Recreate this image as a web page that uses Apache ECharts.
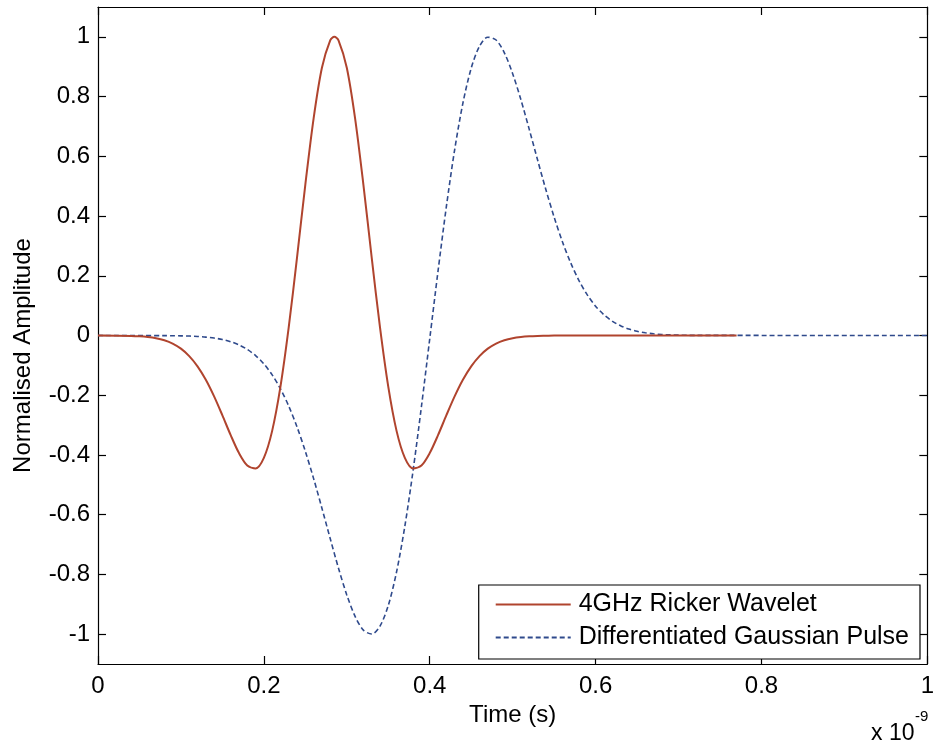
<!DOCTYPE html>
<html>
<head>
<meta charset="utf-8">
<script src="https://cdn.jsdelivr.net/npm/echarts@6/dist/echarts.min.js"></script>
<style>
html,body{margin:0;padding:0;background:#fff;}
#chart{width:937px;height:749px;}
</style>
</head>
<body>
<div id="chart"></div>
<script>
// Time in units of 1e-9 s
const rickerTime = [0, 0.04, 0.05, 0.06, 0.07, 0.08, 0.09, 0.10, 0.11, 0.12, 0.13, 0.14, 0.15, 0.16, 0.17, 0.18, 0.19, 0.20, 0.21, 0.22, 0.23, 0.24, 0.25, 0.26, 0.27, 0.28, 0.285, 0.29, 0.30, 0.31, 0.32, 0.33, 0.34, 0.35, 0.36, 0.37, 0.38, 0.39, 0.40, 0.41, 0.42, 0.43, 0.44, 0.45, 0.46, 0.47, 0.48, 0.49, 0.50, 0.51, 0.52, 0.53, 0.54, 0.55, 0.77];
const rickerAmp = [0, -0.0014, -0.0027, -0.0051, -0.0092, -0.0161, -0.0271, -0.0441, -0.0689, -0.1032, -0.1482, -0.2039, -0.2675, -0.3337, -0.3937, -0.4353, -0.4450, -0.4096, -0.3193, -0.1714, 0.0277, 0.2618, 0.5053, 0.7272, 0.8966, 0.9882, 1.0, 0.9882, 0.8966, 0.7272, 0.5053, 0.2618, 0.0277, -0.1714, -0.3193, -0.4096, -0.4450, -0.4353, -0.3937, -0.3337, -0.2675, -0.2039, -0.1482, -0.1032, -0.0689, -0.0441, -0.0271, -0.0161, -0.0092, -0.0051, -0.0027, -0.0014, -0.0007, 0, 0];

const gaussTime = [0, 0.08, 0.09, 0.10, 0.11, 0.12, 0.13, 0.14, 0.15, 0.16, 0.17, 0.18, 0.19, 0.20, 0.21, 0.22, 0.23, 0.24, 0.25, 0.26, 0.27, 0.28, 0.29, 0.30, 0.31, 0.32, 0.33, 0.34, 0.35, 0.36, 0.37, 0.38, 0.39, 0.40, 0.41, 0.42, 0.43, 0.44, 0.45, 0.46, 0.47, 0.48, 0.49, 0.50, 0.51, 0.52, 0.53, 0.54, 0.55, 0.56, 0.57, 0.58, 0.59, 0.60, 0.61, 0.62, 0.63, 0.64, 0.65, 0.66, 0.67, 0.68, 0.69, 0.70, 0.71, 0.72, 1.0];
const gaussAmp = [0, -0.0004, -0.0007, -0.0011, -0.0019, -0.0033, -0.0053, -0.0086, -0.0135, -0.0208, -0.0314, -0.0464, -0.0671, -0.0950, -0.1317, -0.1784, -0.2365, -0.3063, -0.3879, -0.4792, -0.5782, -0.6800, -0.7792, -0.8687, -0.9406, -0.9866, -0.9996, -0.9732, -0.9042, -0.7917, -0.6385, -0.4508, -0.2378, -0.0114, 0.2156, 0.4304, 0.6211, 0.7781, 0.8949, 0.9684, 0.9988, 0.9896, 0.9465, 0.8768, 0.7889, 0.6903, 0.5883, 0.4888, 0.3966, 0.3139, 0.2430, 0.1837, 0.1359, 0.0983, 0.0696, 0.0482, 0.0327, 0.0217, 0.0141, 0.0090, 0.0056, 0.0034, 0.0020, 0.0012, 0.0007, 0.0004, 0];

const xTicks = [0, 0.2, 0.4, 0.6, 0.8, 1];
const yTicks = [-1, -0.8, -0.6, -0.4, -0.2, 0, 0.2, 0.4, 0.6, 0.8, 1];
const seriesNames = ['4GHz Ricker Wavelet', 'Differentiated Gaussian Pulse'];

const FONT = '"Liberation Sans", Arial, sans-serif';
const axisLineStyle = { color: '#000', width: 1.2 };

const chart = echarts.init(document.getElementById('chart'), null, { renderer: 'canvas' });

const option = {
  animation: false,
  backgroundColor: '#fff',
  grid: { left: 98, right: 4, top: 7, bottom: 85, containLabel: false },
  xAxis: [
    {
      type: 'value', min: 0, max: 1, position: 'bottom',
      axisLine: { show: true, onZero: false, lineStyle: axisLineStyle },
      axisTick: { show: true, inside: true, length: 8, customValues: xTicks, lineStyle: axisLineStyle },
      axisLabel: { customValues: xTicks, color: '#000', fontFamily: FONT, fontSize: 24, margin: 10 },
      splitLine: { show: false },
      name: 'Time (s)', nameLocation: 'middle', nameGap: 35,
      nameTextStyle: { color: '#000', fontFamily: FONT, fontSize: 24 }
    },
    {
      type: 'value', min: 0, max: 1, position: 'top',
      axisLine: { show: true, onZero: false, lineStyle: axisLineStyle },
      axisTick: { show: true, inside: true, length: 8, customValues: xTicks, lineStyle: axisLineStyle },
      axisLabel: { show: false },
      splitLine: { show: false }
    }
  ],
  yAxis: [
    {
      type: 'value', min: -1.1, max: 1.1, position: 'left',
      axisLine: { show: true, onZero: false, lineStyle: axisLineStyle },
      axisTick: { show: true, inside: true, length: 8, customValues: yTicks, lineStyle: axisLineStyle },
      axisLabel: { customValues: yTicks, color: '#000', fontFamily: FONT, fontSize: 24, margin: 8 },
      splitLine: { show: false },
      name: 'Normalised Amplitude', nameLocation: 'middle', nameGap: 63,
      nameTextStyle: { color: '#000', fontFamily: FONT, fontSize: 24, padding: [0, 40, 0, 0] }
    },
    {
      type: 'value', min: -1.1, max: 1.1, position: 'right',
      axisLine: { show: true, onZero: false, lineStyle: axisLineStyle },
      axisTick: { show: true, inside: true, length: 8, customValues: yTicks, lineStyle: axisLineStyle },
      axisLabel: { show: false },
      splitLine: { show: false }
    }
  ],
  legend: {
    orient: 'vertical',
    right: 17, bottom: 90,
    backgroundColor: '#fff',
    borderColor: '#000', borderWidth: 1.2,
    padding: [7, 11, 9, 16],
    itemWidth: 75, itemHeight: 26, itemGap: 8,
    itemStyle: { opacity: 0 },
    textStyle: { color: '#000', fontFamily: FONT, fontSize: 25, padding: [0, 0, 0, 3] },
    data: seriesNames
  },
  series: [
    {
      name: seriesNames[0], type: 'line', xAxisIndex: 0, yAxisIndex: 0,
      data: rickerTime.map((t, i) => [t, rickerAmp[i]]),
      symbol: 'none', smooth: 0.3,
      lineStyle: { color: '#b0442e', width: 2 },
      itemStyle: { color: '#b0442e' },
      z: 3
    },
    {
      name: seriesNames[1], type: 'line', xAxisIndex: 0, yAxisIndex: 0,
      data: gaussTime.map((t, i) => [t, gaussAmp[i]]),
      symbol: 'none', smooth: 0.3,
      lineStyle: { color: '#2f4a8c', width: 1.6, type: [5, 3] },
      itemStyle: { color: '#2f4a8c' },
      z: 2
    }
  ],
  graphic: [
    {
      type: 'text', left: 871, top: 722,
      style: { text: 'x 10', fontFamily: FONT, fontSize: 23, fill: '#000' }
    },
    {
      type: 'text', left: 915, top: 709,
      style: { text: '-9', fontFamily: FONT, fontSize: 15, fill: '#000' }
    }
  ]
};
chart.setOption(option);
</script>
</body>
</html>
